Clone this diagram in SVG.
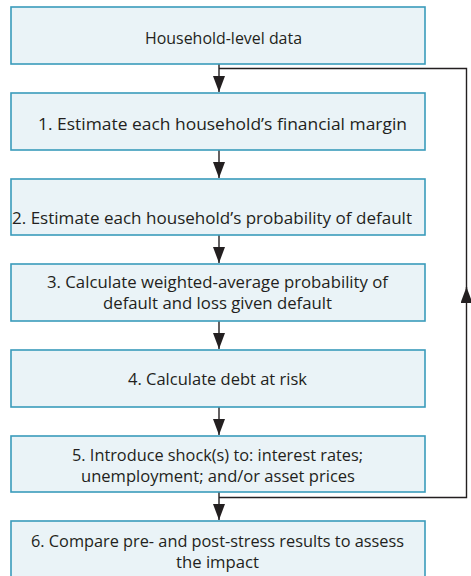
<svg xmlns="http://www.w3.org/2000/svg" width="471" height="576" viewBox="0 0 471 576">
<style>
.box{fill:#eaf3f7;stroke:#3a9bbb;stroke-width:1.6}
.t{font-family:"Open Sans","Liberation Sans",sans-serif;font-size:16.5px;fill:#231f20;text-anchor:middle}
.c{fill:none;stroke:#231f20;stroke-width:1.4}
</style>
<defs>
<marker id="ah" markerUnits="userSpaceOnUse" markerWidth="16" markerHeight="12" refX="16" refY="6" orient="auto">
<path d="M0,0 L16,6 L0,12 z" fill="#231f20"/>
</marker>
</defs>
<rect width="471" height="576" fill="#ffffff"/>
<g id="connectors">
<path class="c" d="M219,64 V92" marker-end="url(#ah)"/>
<path class="c" d="M219,150 V178" marker-end="url(#ah)"/>
<path class="c" d="M219,235 V263" marker-end="url(#ah)"/>
<path class="c" d="M219,321 V349" marker-end="url(#ah)"/>
<path class="c" d="M219,407 V435" marker-end="url(#ah)"/>
<path class="c" d="M219,492 V520" marker-end="url(#ah)"/>
<path class="c" d="M219,497.5 H466.5 V287" marker-end="url(#ah)"/>
<path class="c" d="M466.5,290 V68.5 H219"/>
</g>
<g id="n0"><rect class="box" x="11" y="7" width="414" height="57"/><text class="t" x="223.5" y="44" textLength="157" lengthAdjust="spacingAndGlyphs">Household-level data</text></g>
<g id="n1"><rect class="box" x="11" y="93" width="414" height="57"/><text class="t" x="222.5" y="130" textLength="369" lengthAdjust="spacingAndGlyphs">1. Estimate each household’s financial margin</text></g>
<g id="n2"><rect class="box" x="11" y="179" width="414" height="56"/><text class="t" x="212" y="224" textLength="400" lengthAdjust="spacingAndGlyphs">2. Estimate each household’s probability of default</text></g>
<g id="n3"><rect class="box" x="11" y="264" width="414" height="57"/><text class="t" x="217.5" y="287.5" textLength="341" lengthAdjust="spacingAndGlyphs">3. Calculate weighted-average probability of</text><text class="t" x="217.5" y="309" textLength="229" lengthAdjust="spacingAndGlyphs">default and loss given default</text></g>
<g id="n4"><rect class="box" x="11" y="350" width="414" height="57"/><text class="t" x="217.5" y="385" textLength="179" lengthAdjust="spacingAndGlyphs">4. Calculate debt at risk</text></g>
<g id="n5"><rect class="box" x="11" y="436" width="414" height="56"/><text class="t" x="217.5" y="461" textLength="291" lengthAdjust="spacingAndGlyphs">5. Introduce shock(s) to: interest rates;</text><text class="t" x="218" y="482" textLength="274" lengthAdjust="spacingAndGlyphs">unemployment; and/or asset prices</text></g>
<g id="n6"><rect class="box" x="11" y="521" width="414" height="60"/><text class="t" x="217.5" y="546.5" textLength="373" lengthAdjust="spacingAndGlyphs">6. Compare pre- and post-stress results to assess</text><text class="t" x="217.5" y="567.5" textLength="83" lengthAdjust="spacingAndGlyphs">the impact</text></g>
</svg>
